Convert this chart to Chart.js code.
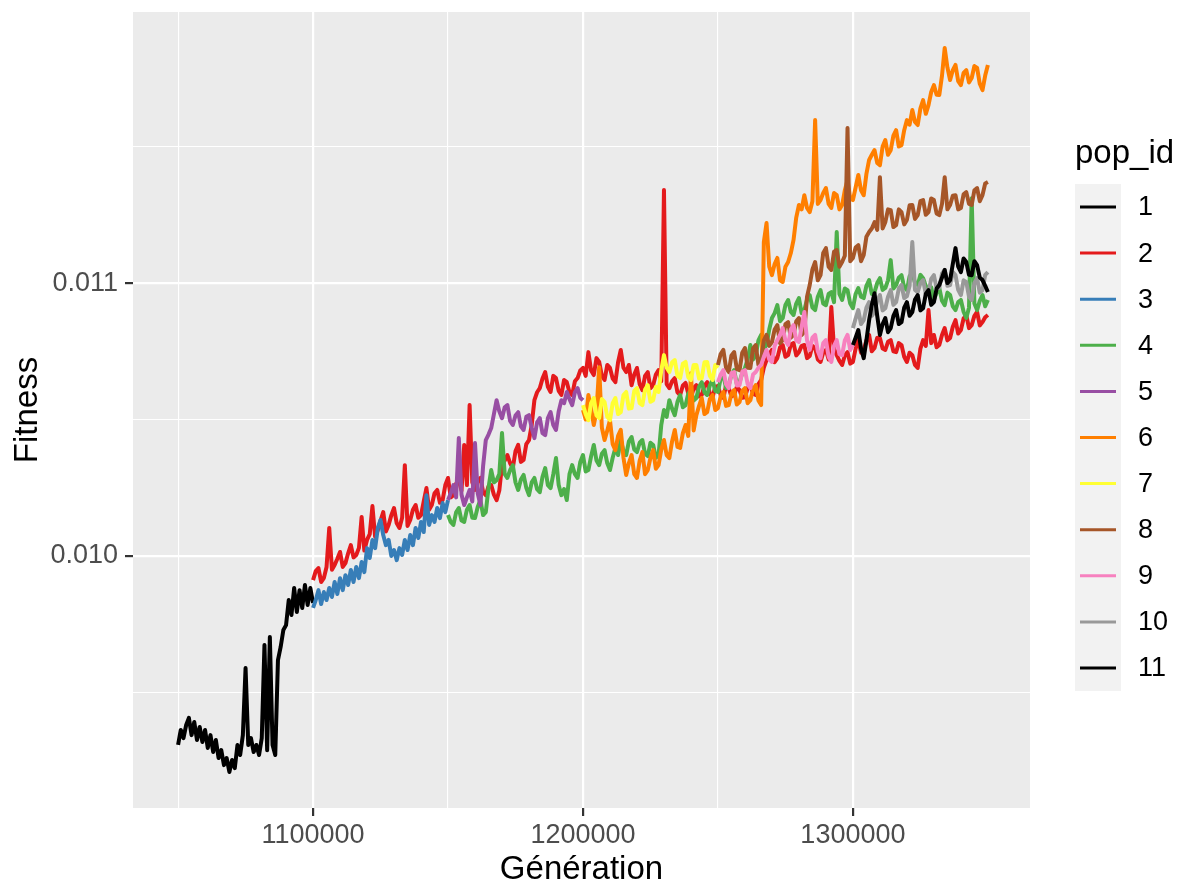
<!DOCTYPE html>
<html><head><meta charset="utf-8">
<script src="https://cdn.jsdelivr.net/npm/chart.js@4.4.1/dist/chart.umd.min.js"></script>
<style>html,body{margin:0;padding:0;background:#fff}#wrap{width:1181px;height:886px;position:relative}</style>
</head><body><div id="wrap"><canvas id="c" width="1181" height="886"></canvas></div>
<script>
const popIds = ['1','2','3','4','5','6','7','8','9','10','11'];
const popColors = ['#000000','#E41A1C','#377EB8','#4DAF4A','#984EA3','#FF7F00','#FFFF33','#A65628','#F781BF','#999999','#000000'];
const popStartGen = [1050000,1100000,1100000,1150000,1150000,1200000,1200000,1250000,1250000,1300000,1300000];
const popGenStep = [1000,1000,1000,1000,1000,1000,1000,1000,1000,1000,1000];

const pop1Fitness = [0.009308,0.009363,0.009333,0.009381,0.009407,0.009344,0.009392,0.009326,0.009374,0.009319,
 0.009363,0.009297,0.009344,0.009282,0.009326,0.009260,0.009289,0.009234,0.009260,0.009209,
 0.009253,0.009223,0.009308,0.009271,0.009344,0.009590,0.009308,0.009333,0.009282,0.009308,
 0.009271,0.009333,0.009674,0.009289,0.009703,0.009308,0.009271,0.009619,0.009667,0.009729,
 0.009747,0.009839,0.009784,0.009883,0.009795,0.009875,0.009810,0.009894,0.009821,0.009883,
 0.009828];
const pop2Fitness = [
 0.009912,0.009945,0.009956,0.009905,0.009919,0.009960,0.010103,0.009950,0.009967,0.009990,
 0.010015,0.009960,0.009974,0.010010,0.010040,0.009995,0.010004,0.010030,0.010143,0.010020,
 0.010059,0.010080,0.010183,0.010070,0.010095,0.010130,0.010161,0.010090,0.010114,0.010150,
 0.010176,0.010120,0.010103,0.010140,0.010333,0.010110,0.010132,0.010170,0.010187,0.010140,
 0.010150,0.010200,0.010249,0.010170,0.010187,0.010230,0.010242,0.010195,0.010205,0.010260,
 0.010286,0.010215,0.010223,0.010265,0.010278,0.010240,0.010407,0.010260,0.010553,0.010270,
 0.010242,0.010275,0.010286,0.010235,0.010223,0.010255,0.010260,0.010225,0.010205,0.010240,
 0.010333,0.010350,0.010370,0.010340,0.010322,0.010385,0.010407,0.010345,0.010352,0.010410,
 0.010425,0.010480,0.010571,0.010600,0.010615,0.010650,0.010674,0.010620,0.010601,0.010660,
 0.010652,0.010605,0.010590,0.010645,0.010637,0.010600,0.010590,0.010640,0.010652,0.010680,
 0.010689,0.010660,0.010747,0.010680,0.010663,0.010725,0.010711,0.010660,0.010645,0.010700,
 0.010689,0.010650,0.010637,0.010710,0.010755,0.010690,0.010674,0.010700,0.010626,0.010665,
 0.010689,0.010630,0.010608,0.010660,0.010674,0.010615,0.010626,0.010665,0.010681,0.010640,
 0.011341,0.010630,0.010615,0.010640,0.010652,0.010600,0.010590,0.010625,0.010634,0.010595,
 0.010579,0.010615,0.010626,0.010585,0.010590,0.010625,0.010637,0.010595,0.010582,0.010620,
 0.010623,0.010590,0.010579,0.010625,0.010615,0.010585,0.010590,0.010620,0.010608,0.010580,
 0.010582,0.010615,0.010626,0.010595,0.010590,0.010630,0.010645,0.010690,0.010718,0.010740,
 0.010755,0.010710,0.010725,0.010765,0.010773,0.010730,0.010736,0.010775,0.010780,0.010735,
 0.010747,0.010770,0.010773,0.010725,0.010733,0.010770,0.010762,0.010720,0.010711,0.010745,
 0.010755,0.010720,0.010912,0.010760,0.010736,0.010715,0.010700,0.010735,0.010747,0.010705,
 0.010711,0.010760,0.010791,0.010745,0.010755,0.010790,0.010810,0.010750,0.010762,0.010800,
 0.010799,0.010760,0.010755,0.010785,0.010791,0.010750,0.010747,0.010780,0.010773,0.010730,
 0.010711,0.010745,0.010736,0.010700,0.010689,0.010760,0.010791,0.010770,0.010901,0.010780,
 0.010810,0.010765,0.010773,0.010810,0.010835,0.010790,0.010799,0.010840,0.010864,0.010815,
 0.010828,0.010870,0.010883,0.010835,0.010846,0.010880,0.010894,0.010845,0.010857,0.010875,
 0.010883];
const pop3Fitness = [0.009810,0.009839,0.009875,0.009824,0.009868,0.009839,0.009883,0.009850,0.009905,0.009861,
 0.009919,0.009875,0.009930,0.009894,0.009949,0.009905,0.009960,0.009919,0.009978,0.009941,
 0.010029,0.009993,0.010059,0.010029,0.010103,0.010132,0.010077,0.010040,0.010059,0.010000,
 0.010022,0.009985,0.010029,0.010004,0.010059,0.010022,0.010077,0.010040,0.010103,0.010066,
 0.010125,0.010088,0.010223,0.010114,0.010150,0.010125,0.010176,0.010139,0.010194,0.010161,
 0.010205];
const pop4Fitness = [
 0.010150,0.010125,0.010114,0.010160,0.010176,0.010130,0.010125,0.010170,0.010187,0.010140,
 0.010139,0.010180,0.010205,0.010150,0.010161,0.010250,0.010315,0.010270,0.010278,0.010300,
 0.010451,0.010300,0.010286,0.010315,0.010333,0.010270,0.010242,0.010280,0.010297,0.010250,
 0.010223,0.010270,0.010286,0.010245,0.010234,0.010290,0.010322,0.010260,0.010249,0.010300,
 0.010359,0.010260,0.010223,0.010245,0.010205,0.010300,0.010333,0.010300,0.010286,0.010345,
 0.010370,0.010310,0.010315,0.010365,0.010407,0.010350,0.010333,0.010375,0.010388,0.010340,
 0.010315,0.010360,0.010396,0.010370,0.010425,0.010385,0.010370,0.010420,0.010436,0.010390,
 0.010381,0.010415,0.010425,0.010375,0.010366,0.010415,0.010407,0.010360,0.010370,0.010480,
 0.010535,0.010510,0.010571,0.010540,0.010516,0.010565,0.010590,0.010545,0.010553,0.010595,
 0.010608,0.010570,0.010579,0.010620,0.010637,0.010600,0.010590,0.010625,0.010645,0.010605,
 0.010601,0.010650,0.010663,0.010615,0.010626,0.010665,0.010681,0.010630,0.010637,0.010670,
 0.010689,0.010720,0.010773,0.010720,0.010736,0.010790,0.010810,0.010760,0.010773,0.010830,
 0.010872,0.010890,0.010919,0.010860,0.010872,0.010920,0.010938,0.010895,0.010883,0.010925,
 0.010945,0.010890,0.010901,0.010940,0.010956,0.010910,0.010901,0.010950,0.010974,0.010925,
 0.010919,0.010960,0.010967,0.010930,0.011187,0.010960,0.010938,0.010980,0.010974,0.010925,
 0.010908,0.010960,0.010982,0.010950,0.010945,0.010990,0.011011,0.010960,0.010967,0.011000,
 0.011018,0.010975,0.010982,0.011010,0.011084,0.010980,0.010993,0.011020,0.011029,0.010985,
 0.010974,0.011025,0.011040,0.011000,0.010993,0.011030,0.011018,0.010990,0.010967,0.010985,
 0.010938,0.010965,0.010982,0.010935,0.010919,0.010965,0.010956,0.010915,0.010901,0.010930,
 0.010938,0.010895,0.010872,0.010910,0.011311,0.010925,0.010901,0.010935,0.010956,0.010915,
 0.010938];
const pop5Fitness = [
 0.010205,0.010230,0.010260,0.010215,0.010432,0.010225,0.010187,0.010215,0.010242,0.010200,
 0.010414,0.010230,0.010187,0.010330,0.010425,0.010445,0.010469,0.010520,0.010571,0.010530,
 0.010505,0.010545,0.010553,0.010495,0.010480,0.010515,0.010527,0.010475,0.010462,0.010510,
 0.010516,0.010470,0.010432,0.010490,0.010505,0.010450,0.010443,0.010505,0.010527,0.010480,
 0.010462,0.010530,0.010571,0.010560,0.010601,0.010575,0.010553,0.010600,0.010615,0.010580,
 0.010571];
const pop6Fitness = [
 0.010535,0.010500,0.010590,0.010540,0.010480,0.010530,0.010692,0.010470,0.010425,0.010460,
 0.010498,0.010410,0.010388,0.010440,0.010462,0.010360,0.010297,0.010340,0.010370,0.010300,
 0.010286,0.010350,0.010381,0.010300,0.010315,0.010360,0.010388,0.010320,0.010333,0.010390,
 0.010425,0.010370,0.010359,0.010420,0.010462,0.010400,0.010396,0.010450,0.010480,0.010440,
 0.010670,0.010460,0.010516,0.010550,0.010579,0.010520,0.010527,0.010575,0.010590,0.010535,
 0.010542,0.010585,0.010601,0.010550,0.010553,0.010595,0.010608,0.010555,0.010564,0.010605,
 0.010615,0.010560,0.010571,0.010610,0.010626,0.010570,0.010553,0.011150,0.011220,0.011060,
 0.011029,0.011070,0.011092,0.011010,0.011004,0.011060,0.011077,0.011110,0.011158,0.011240,
 0.011286,0.011270,0.011322,0.011275,0.011260,0.011300,0.011597,0.011290,0.011304,0.011330,
 0.011348,0.011290,0.011275,0.011330,0.011322,0.011270,0.011286,0.011340,0.011377,0.011310,
 0.011304,0.011350,0.011396,0.011340,0.011322,0.011400,0.011451,0.011470,0.011487,0.011440,
 0.011432,0.011500,0.011524,0.011470,0.011487,0.011540,0.011560,0.011500,0.011505,0.011560,
 0.011597,0.011580,0.011634,0.011590,0.011579,0.011640,0.011670,0.011620,0.011652,0.011700,
 0.011725,0.011690,0.011689,0.011760,0.011861,0.011790,0.011744,0.011780,0.011799,0.011740,
 0.011725,0.011770,0.011780,0.011735,0.011751,0.011795,0.011788,0.011730,0.011707,0.011760,
 0.011799];
const pop7Fitness = [
 0.010553,0.010520,0.010498,0.010560,0.010579,0.010515,0.010505,0.010575,0.010564,0.010510,
 0.010498,0.010560,0.010579,0.010520,0.010527,0.010590,0.010601,0.010540,0.010542,0.010605,
 0.010615,0.010560,0.010553,0.010610,0.010626,0.010565,0.010571,0.010620,0.010601,0.010680,
 0.010736,0.010690,0.010674,0.010710,0.010718,0.010660,0.010652,0.010705,0.010711,0.010655,
 0.010645,0.010700,0.010700,0.010650,0.010652,0.010710,0.010711,0.010660,0.010645,0.010700,
 0.010689];
const pop8Fitness = [
 0.010700,0.010740,0.010755,0.010690,0.010674,0.010735,0.010747,0.010685,0.010681,0.010745,
 0.010762,0.010690,0.010689,0.010760,0.010773,0.010700,0.010718,0.010790,0.010810,0.010770,
 0.010784,0.010830,0.010846,0.010780,0.010791,0.010850,0.010857,0.010800,0.010810,0.010860,
 0.010872,0.010810,0.010821,0.010950,0.010993,0.011050,0.011077,0.011010,0.011029,0.011110,
 0.011128,0.011060,0.011048,0.011115,0.011121,0.011060,0.011077,0.011100,0.011568,0.011080,
 0.011092,0.011130,0.011139,0.011080,0.011103,0.011170,0.011187,0.011200,0.011223,0.011195,
 0.011388,0.011200,0.011223,0.011270,0.011267,0.011205,0.011212,0.011270,0.011260,0.011215,
 0.011231,0.011285,0.011286,0.011235,0.011249,0.011300,0.011304,0.011250,0.011260,0.011310,
 0.011304,0.011255,0.011249,0.011290,0.011388,0.011270,0.011286,0.011320,0.011322,0.011270,
 0.011275,0.011325,0.011333,0.011290,0.011286,0.011340,0.011348,0.011300,0.011322,0.011365,
 0.011370];
const pop9Fitness = [
 0.010637,0.010665,0.010681,0.010630,0.010615,0.010670,0.010674,0.010625,0.010626,0.010675,
 0.010681,0.010630,0.010615,0.010665,0.010674,0.010690,0.010700,0.010730,0.010755,0.010720,
 0.010711,0.010770,0.010791,0.010810,0.010835,0.010790,0.010773,0.010830,0.010846,0.010790,
 0.010784,0.010840,0.010894,0.010790,0.010755,0.010800,0.010810,0.010750,0.010725,0.010780,
 0.010791,0.010730,0.010711,0.010770,0.010791,0.010740,0.010736,0.010790,0.010810,0.010755,
 0.010773];
const pop10Fitness = [
 0.010835,0.010870,0.010901,0.010850,0.010864,0.010910,0.010930,0.010880,0.010894,0.010935,
 0.010956,0.010900,0.010908,0.010950,0.010974,0.010920,0.010930,0.010980,0.010993,0.010945,
 0.010952,0.010990,0.011150,0.010975,0.010967,0.011000,0.011011,0.010960,0.010967,0.011015,
 0.011029,0.010980,0.010982,0.011035,0.011048,0.010990,0.010993,0.011040,0.011029,0.010975,
 0.010956,0.011010,0.011004,0.010950,0.010938,0.011000,0.011018,0.010965,0.010974,0.011030,
 0.011040];
const pop11Fitness = [
 0.010773,0.010800,0.010828,0.010760,0.010725,0.010790,0.010864,0.010920,0.010963,0.010880,
 0.010810,0.010850,0.010872,0.010820,0.010835,0.010880,0.010901,0.010850,0.010857,0.010910,
 0.010930,0.010880,0.010894,0.010940,0.010956,0.010900,0.010908,0.010960,0.010974,0.010920,
 0.010930,0.010980,0.010993,0.011020,0.011048,0.011000,0.011011,0.011070,0.011128,0.011060,
 0.011040,0.011090,0.011077,0.011030,0.011029,0.011080,0.011066,0.011020,0.011011,0.010990,
 0.010967];

const xMajorBreaks = [1100000, 1200000, 1300000];
const xMinorBreaks = [1050000, 1150000, 1250000];
const xTickLabels = ['1100000', '1200000', '1300000'];
const yMajorBreaks = [0.010, 0.011];
const yMinorBreaks = [0.0095, 0.0105, 0.0115];
const yTickLabels = ['0.010', '0.011'];
const xAxisRange = [1033300, 1365600];
const yAxisRange = [0.009077, 0.011993];
const xTitle = 'Génération';
const yTitle = 'Fitness';
const legendTitle = 'pop_id';

const allFitness = [pop1Fitness,pop2Fitness,pop3Fitness,pop4Fitness,pop5Fitness,pop6Fitness,pop7Fitness,pop8Fitness,pop9Fitness,pop10Fitness,pop11Fitness];

const FONT = "'Liberation Sans', Arial, sans-serif";
const isMajor = (arr, v) => arr.some(b => Math.abs(b - v) < 1e-9 * Math.max(1, Math.abs(b)));

const datasets = allFitness.map((vals, i) => ({
  label: popIds[i],
  data: vals.map((f, k) => ({ x: popStartGen[i] + k * popGenStep[i], y: f })),
  borderColor: popColors[i],
  backgroundColor: popColors[i],
  borderWidth: 4,
  pointRadius: 0,
  tension: 0,
  fill: false,
  borderJoinStyle: 'round',
  order: popIds.length - i
}));

const panelBg = {
  id: 'panelBg',
  beforeDraw(chart) {
    const { ctx, chartArea: a } = chart;
    ctx.save();
    ctx.fillStyle = '#EBEBEB';
    ctx.fillRect(a.left, a.top, a.right - a.left, a.bottom - a.top);
    ctx.restore();
  }
};

const ggLegend = {
  id: 'ggLegend',
  afterDraw(chart) {
    const ctx = chart.ctx;
    ctx.save();
    ctx.fillStyle = '#000';
    ctx.font = '33px ' + FONT;
    ctx.textAlign = 'left';
    ctx.textBaseline = 'alphabetic';
    ctx.fillText(legendTitle, 1075, 163);
    ctx.fillStyle = '#F2F2F2';
    ctx.fillRect(1075, 184, 46, 507);
    chart.data.datasets.forEach((ds, i) => {
      const y = 207 + i * 46.1;
      ctx.strokeStyle = ds.borderColor;
      ctx.lineWidth = 3;
      ctx.beginPath();
      ctx.moveTo(1080, y);
      ctx.lineTo(1116, y);
      ctx.stroke();
      ctx.fillStyle = '#000';
      ctx.font = '27px ' + FONT;
      ctx.textBaseline = 'middle';
      ctx.fillText(ds.label, 1138, y + 1);
    });
    ctx.restore();
  }
};

function zeroPad(s) { s.paddingLeft = 0; s.paddingRight = 0; s.paddingTop = 0; s.paddingBottom = 0; }

new Chart(document.getElementById('c'), {
  type: 'line',
  data: { datasets },
  plugins: [panelBg, ggLegend],
  options: {
    responsive: false,
    animation: false,
    devicePixelRatio: 1,
    layout: { padding: { left: 0, top: 12, right: 151, bottom: 0 } },
    plugins: { legend: { display: false }, tooltip: { enabled: false } },
    scales: {
      x: {
        type: 'linear',
        min: xAxisRange[0], max: xAxisRange[1],
        afterBuildTicks: s => { s.ticks = xMinorBreaks.concat(xMajorBreaks).sort((a,b)=>a-b).map(v => ({ value: v })); },
        afterFit: s => { s.height = 78; zeroPad(s); },
        ticks: {
          autoSkip: false, maxRotation: 0, minRotation: 0, padding: 3,
          color: '#4D4D4D', font: { family: FONT, size: 27 },
          callback: v => { const k = xMajorBreaks.findIndex(b => b === v); return k >= 0 ? xTickLabels[k] : ''; }
        },
        grid: {
          color: '#FFFFFF',
          lineWidth: c => isMajor(xMajorBreaks, c.tick.value) ? 2.2 : 1.1,
          drawTicks: true, tickLength: 8,
          tickColor: c => isMajor(xMajorBreaks, c.tick.value) ? '#333333' : 'rgba(0,0,0,0)',
          tickWidth: 2.2
        },
        border: { display: false },
        title: { display: true, text: xTitle, color: '#000', font: { family: FONT, size: 33, lineHeight: 1.0 }, padding: { top: 0, bottom: 0 } }
      },
      y: {
        type: 'linear',
        min: yAxisRange[0], max: yAxisRange[1],
        afterBuildTicks: s => { s.ticks = yMinorBreaks.concat(yMajorBreaks).sort((a,b)=>a-b).map(v => ({ value: v })); },
        afterFit: s => { s.width = 133; zeroPad(s); },
        ticks: {
          autoSkip: false, padding: 7,
          color: '#4D4D4D', font: { family: FONT, size: 27 },
          callback: v => { const k = yMajorBreaks.findIndex(b => Math.abs(b - v) < 1e-9); return k >= 0 ? yTickLabels[k] : ''; }
        },
        grid: {
          color: '#FFFFFF',
          lineWidth: c => isMajor(yMajorBreaks, c.tick.value) ? 2.2 : 1.1,
          drawTicks: true, tickLength: 8,
          tickColor: c => isMajor(yMajorBreaks, c.tick.value) ? '#333333' : 'rgba(0,0,0,0)',
          tickWidth: 2.2
        },
        border: { display: false },
        title: { display: true, text: yTitle, color: '#000', font: { family: FONT, size: 33 }, padding: { top: 8, bottom: 0 } }
      }
    }
  }
});
</script>
</body></html>
